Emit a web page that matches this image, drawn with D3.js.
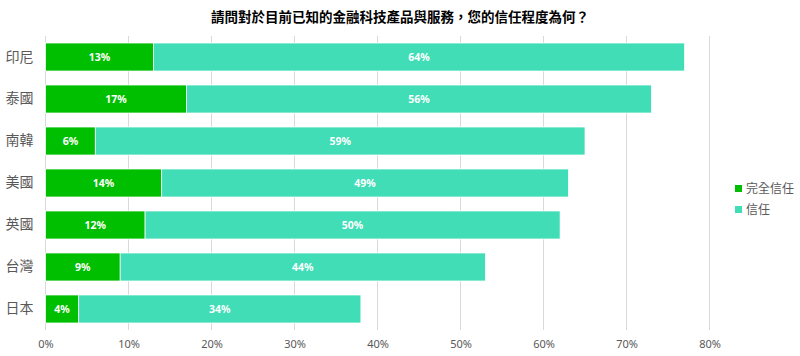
<!DOCTYPE html>
<html><head><meta charset="utf-8">
<script src="https://cdn.jsdelivr.net/npm/d3@7"></script>
<style>body{margin:0;background:#fff;}svg{display:block;}text{font-family:"Noto Sans CJK TC","Noto Sans",sans-serif;}</style>
</head><body>
<svg id="c" width="800" height="356"></svg>
<script>
const title = "請問對於目前已知的金融科技產品與服務，您的信任程度為何？";
const categories = ["印尼","泰國","南韓","美國","英國","台灣","日本"];
const seriesNames = ["完全信任","信任"];
const fullTrust = [13,17,6,14,12,9,4];
const trust = [64,56,59,49,50,44,34];
const xTicks = [0,10,20,30,40,50,60,70,80];
const colors = ["#00bf00","#40ddb6"];

const svg = d3.select("#c");
const mLeft = 45.5, mRight = 709.5, mTop = 36, mBottom = 330;
const x = d3.scaleLinear().domain([0,80]).range([mLeft,mRight]);
const y = d3.scaleBand().domain(categories).range([mTop,mBottom]).paddingInner(0.333).paddingOuter(0.167);

svg.append("text").attr("x",400).attr("y",22).attr("text-anchor","middle")
  .attr("font-size",13.5).attr("font-weight","bold").attr("fill","#000").text(title);

svg.append("g").selectAll("line").data(xTicks).join("line")
  .attr("x1",d=>x(d)).attr("x2",d=>x(d)).attr("y1",mTop).attr("y2",mBottom)
  .attr("stroke","#d9d9d9").attr("stroke-width",1);

const xAxis = d3.axisBottom(x).tickValues(xTicks).tickFormat(d=>d+"%").tickSize(0).tickPadding(10);
const ga = svg.append("g").attr("transform",`translate(0,${mBottom})`).call(xAxis);
ga.select(".domain").remove();
ga.selectAll("text").attr("font-size",11).attr("fill","#595959").style("font-family","'Noto Sans','Noto Sans CJK TC',sans-serif");

const yAxis = d3.axisLeft(y).tickSize(0).tickPadding(12);
const gy = svg.append("g").attr("transform",`translate(${mLeft},0)`).call(yAxis);
gy.select(".domain").remove();
gy.selectAll("text").attr("font-size",14).attr("fill","#595959").style("font-family","'Noto Sans CJK TC',sans-serif");

const data = categories.map((c,i)=>({cat:c, v:[fullTrust[i],trust[i]]}));
const g = svg.append("g");
data.forEach(d=>{
  let acc = 0;
  d.v.forEach((v,j)=>{
    const x0 = x(acc), x1 = x(acc+v);
    g.append("rect").attr("x",x0).attr("y",y(d.cat)).attr("width",x1-x0).attr("height",y.bandwidth())
      .attr("fill",colors[j]).attr("stroke","#fff").attr("stroke-width",0.75);
    g.append("text").attr("x",(x0+x1)/2).attr("y",y(d.cat)+y.bandwidth()/2).attr("dy","0.35em")
      .attr("text-anchor","middle").attr("font-size",10.5).attr("font-weight","bold").attr("fill","#fff")
      .style("font-family","'Noto Sans',sans-serif").text(v+"%");
    acc += v;
  });
});

const lg = svg.append("g");
seriesNames.forEach((s,i)=>{
  const yy = 185 + i*21;
  lg.append("rect").attr("x",735).attr("y",yy).attr("width",7).attr("height",7).attr("fill",colors[i]);
  lg.append("text").attr("x",746).attr("y",yy+3.5).attr("dy","0.35em").attr("font-size",12).attr("fill","#595959").text(s);
});
</script>
</body></html>
